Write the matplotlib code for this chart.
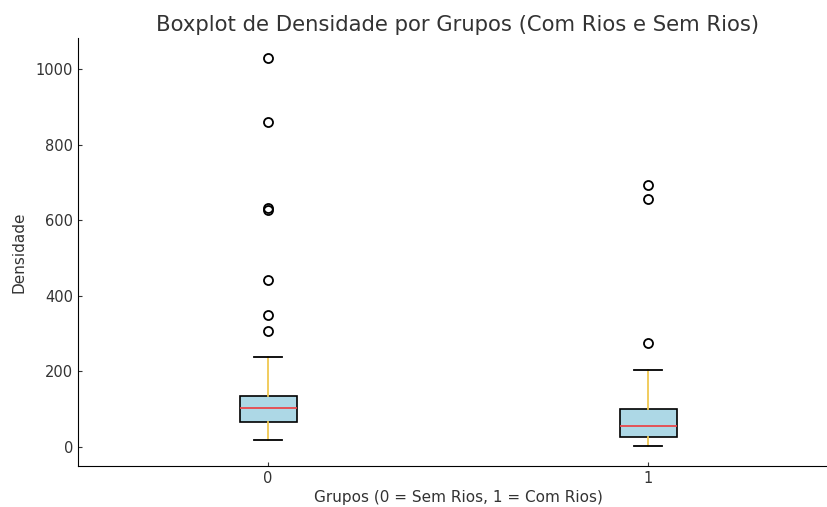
import matplotlib
matplotlib.use("Agg")
import matplotlib.pyplot as plt

# Estatisticas (Densidade por grupo)
grupos = ["0", "1"]
q1 = [65, 26]
medianas = [103, 55]
q3 = [135, 101]
whisker_baixo = [18, 2]
whisker_alto = [237, 203]
outliers_sem_rios = [1028, 861, 631, 626, 441, 348, 307]
outliers_com_rios = [692, 657, 274]

stats = []
for i, g in enumerate(grupos):
    stats.append({
        "label": g,
        "q1": q1[i],
        "med": medianas[i],
        "q3": q3[i],
        "whislo": whisker_baixo[i],
        "whishi": whisker_alto[i],
        "fliers": [outliers_sem_rios, outliers_com_rios][i],
    })

plt.rcParams["font.family"] = "DejaVu Sans"
texto = "#333333"

fig = plt.figure(figsize=(8.28, 5.07), dpi=100)
ax = fig.add_axes([0.0942, 0.0809, 0.918, 0.844])

ax.bxp(stats, positions=[0, 1], widths=0.15, patch_artist=True,
       boxprops=dict(facecolor="lightblue", edgecolor="black", linewidth=1.2),
       medianprops=dict(color="#E8474C", linewidth=1.3),
       whiskerprops=dict(color="#F0C850", linewidth=1.3),
       capprops=dict(color="black", linewidth=1.3),
       flierprops=dict(marker="o", markerfacecolor="none", markeredgecolor="black",
                       markersize=6.5, markeredgewidth=1.3))

ax.set_xlim(-0.5, 1.5)
ax.set_ylim(-51, 1082)
ax.set_yticks([0, 200, 400, 600, 800, 1000])

ax.set_title("Boxplot de Densidade por Grupos (Com Rios e Sem Rios)",
             fontsize=15.2, color=texto, pad=5)
ax.set_xlabel("Grupos (0 = Sem Rios, 1 = Com Rios)", fontsize=11, color=texto, labelpad=3)
ax.set_ylabel("Densidade", fontsize=11, color=texto, labelpad=7)

ax.spines["top"].set_visible(False)
ax.spines["right"].set_visible(False)
ax.tick_params(direction="in", length=3, labelsize=10.5, labelcolor=texto, color=texto)

fig.savefig("out.png", dpi=100)
